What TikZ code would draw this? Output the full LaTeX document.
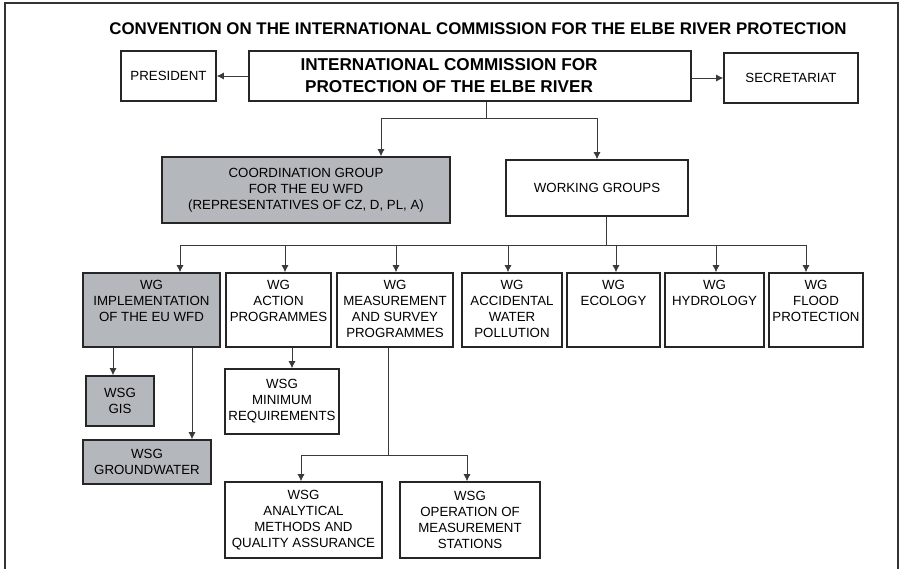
\documentclass[tikz,border=0pt]{standalone}
\usepackage{fontspec}
\setmainfont{Liberation Sans}
\usetikzlibrary{positioning,arrows.meta}
\definecolor{boxgray}{HTML}{B4B8BD}
\definecolor{linegray}{HTML}{3A3A3A}
\tikzset{%
  box/.style={draw=black!85, line width=1.05pt, fill=white, align=center, inner sep=1pt,
    font=\fontsize{9.45}{11.4}\selectfont},
  graybox/.style={box, fill=boxgray},
  wgtext/.style={below, align=center, inner sep=0pt, yshift=-5.3pt,
    font=\fontsize{9.45}{11.4}\selectfont},
  conn/.style={draw=linegray, line width=0.7pt},
  arr/.style={conn, -{Latex[length=5pt,width=5pt]}}
}
\begin{document}
\begin{tikzpicture}[scale=1]
    \useasboundingbox (0,0) rectangle (22.5,-14.2);
    \draw[black!80, line width=0.8pt] (0.125,-14.4) -- (0.125,-0.075) -- (22.45,-0.075) -- (22.45,-14.4); % Frame

    \node[font=\bfseries\fontsize{12}{14}\selectfont] (title) at (11.95,-0.725)
        {CONVENTION ON THE INTERNATIONAL COMMISSION FOR THE ELBE RIVER PROTECTION};

    % Commission and its neighbours
    \node[box, minimum width=11.05cm, minimum height=1.25cm] (icper) at (11.75,-1.9) {};
    \node[font=\bfseries\fontsize{12.2}{15.6}\selectfont, align=center] (icpert) at (11.225,-1.9)
        {INTERNATIONAL COMMISSION FOR\\PROTECTION OF THE ELBE RIVER};
    \node[box, minimum width=2.375cm, minimum height=1.25cm] (pres) at (4.2125,-1.9) {PRESIDENT};
    \node[box, minimum width=3.35cm, minimum height=1.25cm] (sec) at (19.775,-1.95) {SECRETARIAT};
    \draw[arr] (icper.west) -- (pres.east);
    \draw[arr] (icper.east |- sec.west) -- (sec.west);

    \node[graybox, minimum width=7.2cm, minimum height=1.65cm] (coord) at (7.65,-4.75)
        {COORDINATION GROUP\\FOR THE EU WFD\\(REPRESENTATIVES OF CZ, D, PL, A)};
    \node[box, minimum width=4.55cm, minimum height=1.4cm] (wgroups) at (14.925,-4.7) {WORKING GROUPS};

    \coordinate (b1) at (12.15,-2.95);
    \draw[conn] (icper.south -| b1) -- (b1);
    \draw[arr] (b1) -| (coord.north -| 9.525,0);
    \draw[arr] (b1) -| (wgroups.north);

    % Working groups
    \foreach \n/\x/\w/\s/\t in {impl/3.7875/3.425/graybox/{WG\\IMPLEMENTATION\\OF THE EU WFD},
        action/6.9625/2.625/box/{WG\\ACTION\\PROGRAMMES},
        meas/9.875/2.9/box/{WG\\MEASUREMENT\\AND SURVEY\\PROGRAMMES},
        accid/12.8/2.5/box/{WG\\ACCIDENTAL\\WATER\\POLLUTION},
        ecol/15.3375/2.325/box/{WG\\ECOLOGY},
        hydro/17.8625/2.475/box/{WG\\HYDROLOGY},
        flood/20.4/2.35/box/{WG\\FLOOD\\PROTECTION}}
        {
        \node[\s, minimum width=\w cm, minimum height=1.85cm] (\n) at (\x,-7.75) {};
        \node[wgtext] (\n-t) at (\n.north) {\t};
        }

    \coordinate (b2) at (15.15,-6.125);
    \draw[conn] (wgroups.south -| b2) -- (b2);
    \draw[conn] (b2 -| 4.5,0) -- (b2 -| 20.15,0);
    \foreach \n/\x in {impl/4.5, action/7.125, meas/9.9, accid/12.7, ecol/15.4, hydro/17.9, flood/20.15}
        \draw[arr] (b2 -| \x,0) -- (\n.north -| \x,0);

    % Sub groups
    \node[graybox, minimum width=1.7cm, minimum height=1.25cm] (gis) at (3.0,-10.025) {WSG\\GIS};
    \node[graybox, minimum width=3.2cm, minimum height=1.1cm] (gw) at (3.675,-11.55) {WSG\\GROUNDWATER};
    \node[box, minimum width=2.85cm, minimum height=1.625cm] (minreq) at (7.05,-10.0375)
        {WSG\\MINIMUM\\REQUIREMENTS};
    \node[box, minimum width=3.925cm, minimum height=1.9cm] (anal) at (7.5875,-13.0)
        {WSG\\ANALYTICAL\\METHODS AND\\QUALITY ASSURANCE};
    \node[box, minimum width=3.5cm, minimum height=1.9cm] (oper) at (11.75,-13.0)
        {WSG\\OPERATION OF\\MEASUREMENT\\STATIONS};

    \draw[arr] (impl.south -| 2.825,0) -- (gis.north -| 2.825,0);
    \draw[arr] (impl.south -| 4.8,0) -- (gw.north -| 4.8,0);
    \draw[arr] (action.south -| 7.3,0) -- (minreq.north -| 7.3,0);

    \coordinate (b3) at (9.7,-11.375);
    \draw[conn] (meas.south -| b3) -- (b3);
    \draw[arr] (b3) -| (anal.north -| 7.525,0);
    \draw[arr] (b3) -| (oper.north -| 11.675,0);
\end{tikzpicture}
\end{document}
